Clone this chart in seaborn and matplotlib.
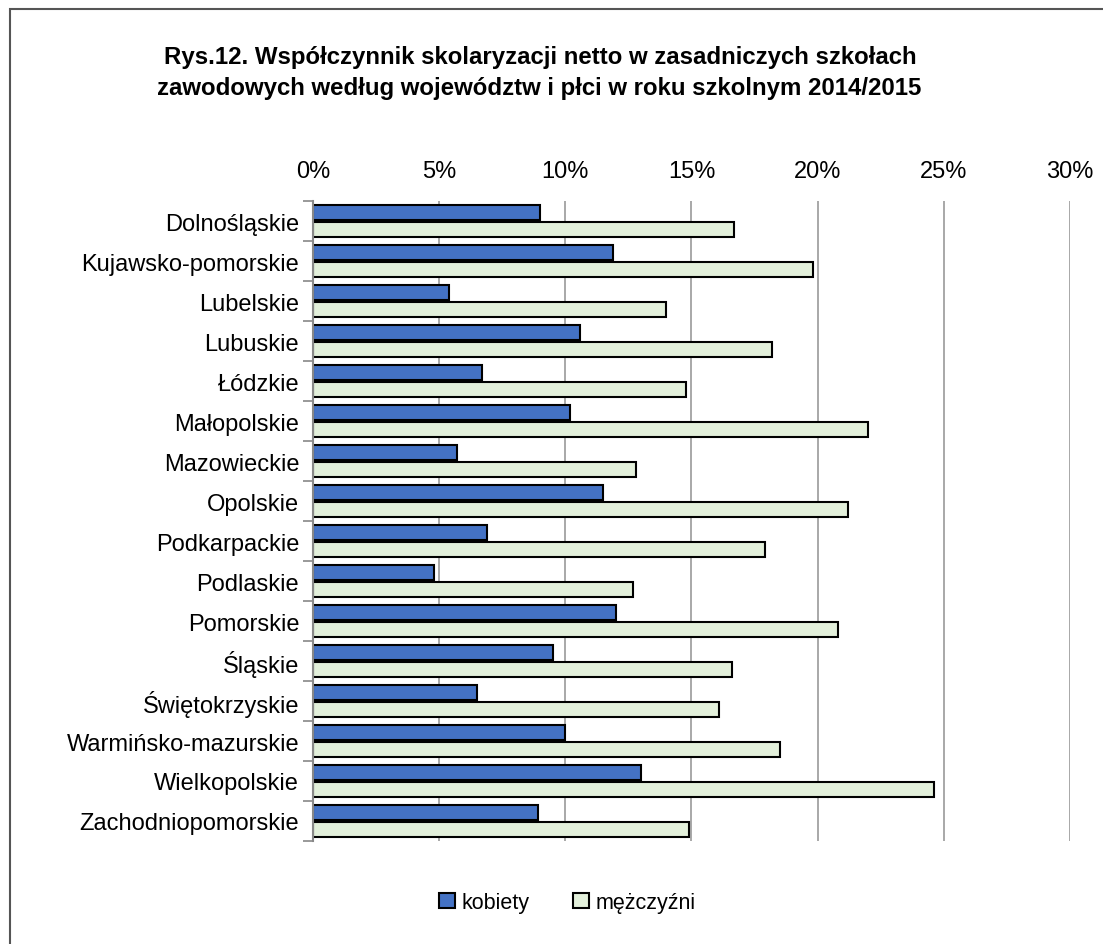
import pandas as pd
import matplotlib
matplotlib.use('Agg')
import matplotlib.pyplot as plt
import seaborn as sns
from matplotlib import font_manager
from matplotlib.patches import Rectangle
from matplotlib.ticker import FixedLocator, PercentFormatter

REGIONS = ['Dolnośląskie', 'Kujawsko-pomorskie', 'Lubelskie', 'Lubuskie', 'Łódzkie',
           'Małopolskie', 'Mazowieckie', 'Opolskie', 'Podkarpackie', 'Podlaskie',
           'Pomorskie', 'Śląskie', 'Świętokrzyskie', 'Warmińsko-mazurskie',
           'Wielkopolskie', 'Zachodniopomorskie']
KOBIETY = [9.0, 11.9, 5.4, 10.6, 6.7, 10.2, 5.7, 11.5, 6.9, 4.8,
           12.0, 9.5, 6.5, 10.0, 13.0, 8.9]
MEZCZYZNI = [16.7, 19.8, 14.0, 18.2, 14.8, 22.0, 12.8, 21.2, 17.9, 12.7,
             20.8, 16.6, 16.1, 18.5, 24.6, 14.9]
SERIES = ['kobiety', 'mężczyźni']
COLORS = {'kobiety': '#4472C4', 'mężczyźni': '#E2EFDA'}
TITLE_LINES = ['Rys.12. Współczynnik skolaryzacji netto w zasadniczych szkołach',
               'zawodowych według województw i płci w roku szkolnym 2014/2015']

sns.set_theme(style='white')
plt.rcParams['font.family'] = ['Liberation Sans', 'DejaVu Sans']
plt.rcParams.update({'text.color': 'black', 'xtick.color': 'black',
                     'ytick.color': 'black'})

# narrow bold face for the title if it is installed
try:
    font_manager.findfont(font_manager.FontProperties(family='Liberation Sans Narrow',
                                                      weight='bold'),
                          fallback_to_default=False)
    TITLE_FONT, TITLE_SIZE = ['Liberation Sans Narrow', 'DejaVu Sans'], 19
except ValueError:
    TITLE_FONT, TITLE_SIZE = ['Liberation Sans', 'DejaVu Sans'], 17.3

df = pd.DataFrame({
    'region': REGIONS * 2,
    'sex': [SERIES[0]] * len(REGIONS) + [SERIES[1]] * len(REGIONS),
    'value': KOBIETY + MEZCZYZNI,
})

fig = plt.figure(figsize=(11.03, 9.45), dpi=100)
ax = fig.add_axes([0.2838, 0.109, 0.970 - 0.2838, 0.7862 - 0.109])

sns.barplot(data=df, y='region', x='value', hue='sex', orient='h',
            palette=COLORS, saturation=1, width=0.84, gap=0.08,
            edgecolor='black', linewidth=1.5, ax=ax, legend=True)

ax.set_xlim(0, 30)
ax.set_ylim(len(REGIONS) - 0.5, -0.5)
ax.xaxis.tick_top()
ax.set_xticks(range(0, 31, 5))
ax.xaxis.set_major_formatter(PercentFormatter(decimals=0))
ax.tick_params(axis='x', length=0, labelsize=17, pad=14)
ax.tick_params(axis='y', which='major', length=0, labelsize=17, pad=10)
ax.yaxis.set_minor_locator(FixedLocator([i - 0.5 for i in range(len(REGIONS) + 1)]))
ax.tick_params(axis='y', which='minor', length=7, width=1.2, color='#888888', left=True)
ax.grid(axis='x', color='#999999', linewidth=1.2)
ax.set_axisbelow(True)
for s in ['top', 'right', 'bottom']:
    ax.spines[s].set_visible(False)
ax.spines['left'].set_color('#888888')
ax.spines['left'].set_linewidth(1.5)
ax.set_xlabel('')
ax.set_ylabel('')

handles, labels = ax.get_legend_handles_labels()
ax.legend(handles, labels, loc='center', bbox_to_anchor=(0.5145, 0.044),
          bbox_transform=fig.transFigure, ncol=2, frameon=False, fontsize=15.5,
          handlelength=0.75, handleheight=0.75, handletextpad=0.3, columnspacing=2.0)

fig.text(0.490, 1 - 64 / 945, TITLE_LINES[0], ha='center', va='baseline',
         fontsize=TITLE_SIZE, fontweight='bold', family=TITLE_FONT)
fig.text(0.489, 1 - 95 / 945, TITLE_LINES[1], ha='center', va='baseline',
         fontsize=TITLE_SIZE, fontweight='bold', family=TITLE_FONT)

fig.patches.append(Rectangle((0.009, -0.01), 1.5, 0.999, transform=fig.transFigure,
                             fill=False, edgecolor='#555555', linewidth=1.5))

plt.savefig('out.png', dpi=100)
plt.close()
